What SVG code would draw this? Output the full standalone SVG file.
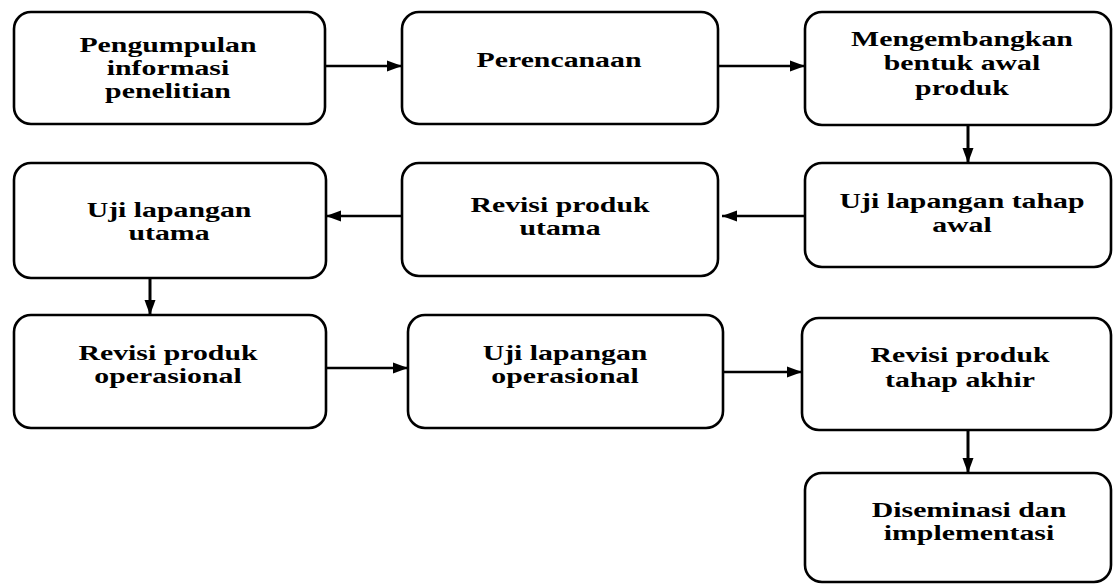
<svg xmlns="http://www.w3.org/2000/svg" width="1113" height="585" viewBox="0 0 1113 585">
<style>
.box{fill:#fff;stroke:#000;stroke-width:2.6}
.lbl{font-family:"Liberation Serif","Times New Roman",serif;font-weight:bold;font-size:21px;fill:#000;text-anchor:middle}
.con{stroke:#000;stroke-width:2.4;fill:none}
.v{stroke-width:3}
</style>
<defs>
<marker id="ah" markerUnits="userSpaceOnUse" markerWidth="16" markerHeight="12" refX="15" refY="6" orient="auto">
<path d="M0,0.5 L15,6 L0,11.5 z" fill="#000"/>
</marker>
</defs>
<rect width="1113" height="585" fill="#fff"/>
<g id="connectors">
<line class="con" x1="325" y1="66" x2="402" y2="66" marker-end="url(#ah)"/>
<line class="con" x1="718" y1="66" x2="805" y2="66" marker-end="url(#ah)"/>
<line class="con v" x1="968" y1="125" x2="968" y2="163" marker-end="url(#ah)"/>
<line class="con" x1="805" y1="216" x2="722" y2="216" marker-end="url(#ah)"/>
<line class="con" x1="402" y1="216" x2="326" y2="216" marker-end="url(#ah)"/>
<line class="con v" x1="150" y1="278" x2="150" y2="315" marker-end="url(#ah)"/>
<line class="con" x1="326" y1="368" x2="408" y2="368" marker-end="url(#ah)"/>
<line class="con" x1="723" y1="372" x2="802" y2="372" marker-end="url(#ah)"/>
<line class="con v" x1="968" y1="430" x2="968" y2="473" marker-end="url(#ah)"/>
</g>
<g id="n1">
<rect class="box" x="14" y="12" width="311" height="112" rx="17"/>
<text class="lbl" transform="translate(168,0) scale(1.42,1)"><tspan x="0" y="52">Pengumpulan</tspan><tspan x="0" y="75">informasi</tspan><tspan x="0" y="98">penelitian</tspan></text>
</g>
<g id="n2">
<rect class="box" x="402" y="12" width="316" height="112" rx="17"/>
<text class="lbl" transform="translate(559,0) scale(1.42,1)"><tspan x="0" y="67">Perencanaan</tspan></text>
</g>
<g id="n3">
<rect class="box" x="805" y="12" width="306" height="113" rx="17"/>
<text class="lbl" transform="translate(962,0) scale(1.42,1)"><tspan x="0" y="46">Mengembangkan</tspan><tspan x="0" y="70">bentuk awal</tspan><tspan x="0" y="95">produk</tspan></text>
</g>
<g id="n4">
<rect class="box" x="805" y="163" width="306" height="104" rx="17"/>
<text class="lbl" transform="translate(962,0) scale(1.42,1)"><tspan x="0" y="208">Uji lapangan tahap</tspan><tspan x="0" y="232">awal</tspan></text>
</g>
<g id="n5">
<rect class="box" x="402" y="163" width="316" height="113" rx="17"/>
<text class="lbl" transform="translate(560,0) scale(1.42,1)"><tspan x="0" y="212">Revisi produk</tspan><tspan x="0" y="235">utama</tspan></text>
</g>
<g id="n6">
<rect class="box" x="14" y="163" width="312" height="115" rx="17"/>
<text class="lbl" transform="translate(169,0) scale(1.42,1)"><tspan x="0" y="217">Uji lapangan</tspan><tspan x="0" y="240">utama</tspan></text>
</g>
<g id="n7">
<rect class="box" x="14" y="315" width="312" height="113" rx="17"/>
<text class="lbl" transform="translate(168,0) scale(1.42,1)"><tspan x="0" y="360">Revisi produk</tspan><tspan x="0" y="383">operasional</tspan></text>
</g>
<g id="n8">
<rect class="box" x="408" y="315" width="315" height="113" rx="17"/>
<text class="lbl" transform="translate(565,0) scale(1.42,1)"><tspan x="0" y="360">Uji lapangan</tspan><tspan x="0" y="383">operasional</tspan></text>
</g>
<g id="n9">
<rect class="box" x="802" y="318" width="309" height="112" rx="17"/>
<text class="lbl" transform="translate(960,0) scale(1.42,1)"><tspan x="0" y="362">Revisi produk</tspan><tspan x="0" y="387">tahap akhir</tspan></text>
</g>
<g id="n10">
<rect class="box" x="805" y="473" width="306" height="109" rx="17"/>
<text class="lbl" transform="translate(969,0) scale(1.42,1)"><tspan x="0" y="517">Diseminasi dan</tspan><tspan x="0" y="540">implementasi</tspan></text>
</g>
</svg>
